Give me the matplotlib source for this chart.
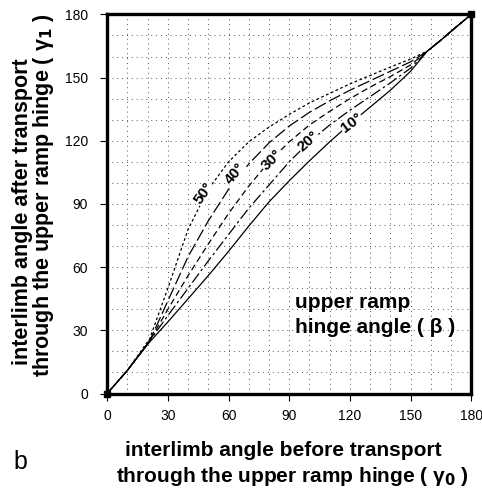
import matplotlib
matplotlib.use("Agg")
import matplotlib.pyplot as plt

# ---- data ----
gamma0_10 = [0, 10, 21, 30, 40, 50, 60, 70, 80, 90, 100, 110, 120, 130, 140, 150, 158, 165, 172, 180]
gamma1_10 = [0, 11, 24.5, 34, 45, 56, 67.5, 79.5, 91, 101, 110.5, 119.5, 128, 136, 144, 153, 162.3, 167.8, 173.6, 180]

gamma0_20 = [0, 10, 21, 30, 40, 50, 60, 70, 80, 90, 100, 110, 120, 130, 140, 150, 158, 165, 172, 180]
gamma1_20 = [0, 11, 25, 37, 50, 63, 75.5, 88, 99, 110, 119.5, 127.5, 134.5, 141, 147.5, 154.5, 162.3, 167.8, 173.6, 180]

gamma0_30 = [0, 10, 21, 30, 40, 50, 60, 70, 80, 90, 100, 110, 120, 130, 140, 150, 158, 165, 172, 180]
gamma1_30 = [0, 11, 25, 40, 56, 71, 85.5, 98.5, 110, 119.5, 127.5, 134, 140, 145.5, 150.5, 156, 162.3, 167.8, 173.6, 180]

gamma0_40 = [0, 10, 21, 30, 40, 50, 60, 70, 80, 90, 100, 110, 120, 130, 140, 150, 158, 165, 172, 180]
gamma1_40 = [0, 11, 25, 44, 65, 82, 97, 109, 119, 127, 133.5, 139, 144, 148.5, 153, 157.5, 162.3, 167.8, 173.6, 180]

gamma0_50 = [0, 10, 21, 30, 40, 50, 60, 70, 80, 90, 100, 110, 120, 130, 140, 150, 158, 165, 172, 180]
gamma1_50 = [0, 11, 26, 50, 78, 97, 110, 119.5, 126.5, 132.5, 138, 142.5, 147, 151, 155, 158.8, 162.5, 167.8, 173.6, 180]

beta_labels = ["10°", "20°", "30°", "40°", "50°"]
label_pos_x = [120.9, 99.4, 81.3, 63.2, 47.6]
label_pos_y = [128.3, 119.6, 110.9, 104.6, 95.0]
label_rot = [37, 42, 45, 50, 55]

ticks = [0, 30, 60, 90, 120, 150, 180]

plt.rcParams['font.family'] = ['Liberation Sans', 'DejaVu Sans']

fig = plt.figure(figsize=(4.82, 4.88), dpi=100)
ax = fig.add_axes([0.2224, 0.1936, 0.7554, 0.7769])

curves = [
    (gamma0_10, gamma1_10, dict(linestyle='-')),
    (gamma0_20, gamma1_20, dict(linestyle=(0, (9, 2.5, 2, 2.5)))),
    (gamma0_30, gamma1_30, dict(linestyle=(0, (5, 3)))),
    (gamma0_40, gamma1_40, dict(linestyle=(0, (10, 3)))),
    (gamma0_50, gamma1_50, dict(linestyle=(0, (2.2, 2)))),
]
for gx, gy, st in curves:
    ax.plot(gx, gy, color='black', lw=0.9, **st)

for lab, lx, ly, r in zip(beta_labels, label_pos_x, label_pos_y, label_rot):
    ax.text(lx, ly, lab, rotation=r, ha='center', va='center', fontsize=11,
            fontweight='bold', bbox=dict(boxstyle='square,pad=0.05', fc='white', ec='none'))

ax.plot([0, 180], [0, 180], 's', color='black', ms=5, clip_on=False, zorder=5)

ax.set_xlim(0, 180)
ax.set_ylim(0, 180)
ax.set_xticks(ticks)
ax.set_yticks(ticks)
ax.set_xticks(range(0, 181, 10), minor=True)
ax.set_yticks(range(0, 181, 10), minor=True)
ax.grid(True, which='both', color='#555555', linestyle=(0, (1, 4)), lw=0.7)
ax.tick_params(which='minor', length=0)
ax.tick_params(which='major', direction='out', length=5, width=0.8, labelsize=10)
ax.tick_params(axis='x', pad=6)
ax.tick_params(axis='y', pad=9)
for sp in ax.spines.values():
    sp.set_linewidth(2.4)

fig.text(283/482, 1 - 451/488, "interlimb angle before transport",
         ha='center', va='center', fontsize=15, fontweight='bold')
fig.text(292/482, 1 - 476/488, "through the upper ramp hinge ( γ$_\\mathbf{0}$ )",
         ha='center', va='center', fontsize=15, fontweight='bold')
fig.text(23/482, 1 - 212/488, "interlimb angle after transport", rotation=90,
         ha='center', va='center', fontsize=15.5, fontweight='bold')
fig.text(44/482, 1 - 195/488, "through the upper ramp hinge ( γ$_\\mathbf{1}$ )", rotation=90,
         ha='center', va='center', fontsize=15.5, fontweight='bold')

ax.text(92.8, 37.3, "upper ramp\nhinge angle ( β )", ha='left', va='center', fontsize=15,
        fontweight='bold', linespacing=1.45, zorder=6)

fig.text(20/482, 1 - 462/488, "b", ha='center', va='center', fontsize=18)

fig.savefig("out.png", dpi=100)
